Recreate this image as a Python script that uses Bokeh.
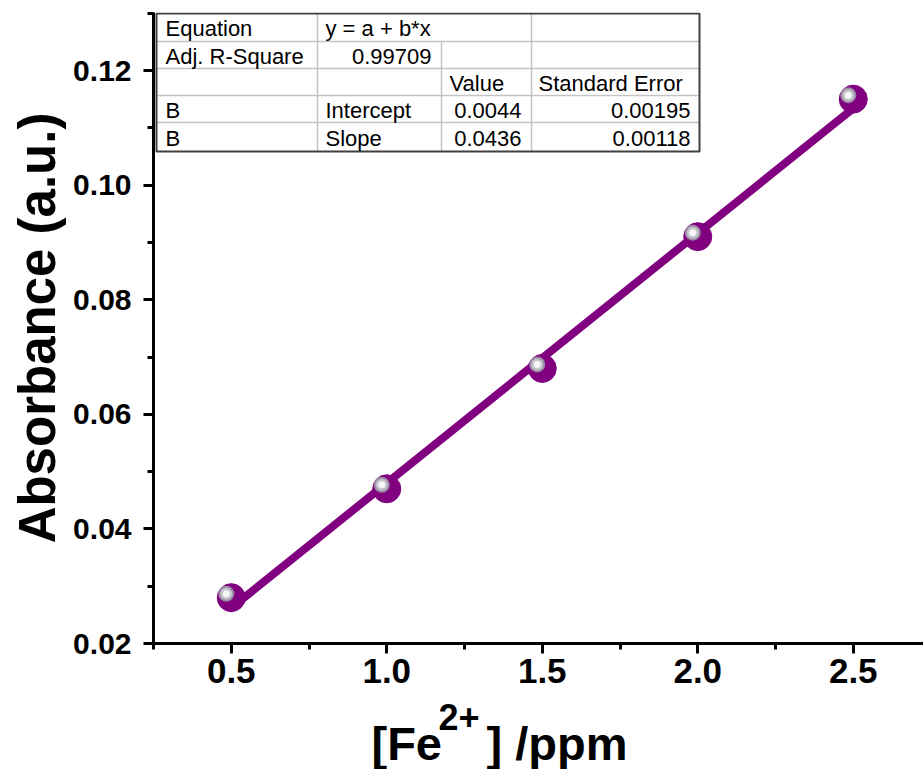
from bokeh.plotting import figure
from bokeh.layouts import column
from bokeh.models import SingleIntervalTicker, PrintfTickFormatter, Range1d
from bokeh.core.properties import value
from bokeh.embed import file_html
from bokeh.resources import INLINE

# Calibration data: absorbance vs Fe2+ concentration
conc_ppm = [0.5, 1.0, 1.5, 2.0, 2.5]
absorbance = [0.028, 0.047, 0.068, 0.091, 0.115]

# Linear fit results (y = a + b*x)
fit_intercept = 0.0044
fit_slope = 0.0436

# Fit summary table
table_rows = [
    ["Equation", "y = a + b*x", "", ""],
    ["Adj. R-Square", "0.99709", "", ""],
    ["", "", "Value", "Standard Error"],
    ["B", "Intercept", "0.0044", "0.00195"],
    ["B", "Slope", "0.0436", "0.00118"],
]

PURPLE = "#800080"
FONT = "Liberation Sans"

W, H = 923, 769
PH = 698                                    # height of the main plot
TITLE_H = H - PH                            # strip below the plot holding the x title
FL, FR, FT, FB = 153, 923, 12, 643          # frame edges in canvas pixels
FW, FH = FR - FL, FB - FT
x0 = 0.25
x1 = x0 + FW / 311.0
y0 = 0.02
y1 = y0 + FH / 5730.0


def px_x(px):
    return x0 + (px - FL) * (x1 - x0) / FW


def px_y(py):
    return y0 + (FB - py) * (y1 - y0) / FH


p = figure(width=W, height=PH, output_backend="svg", toolbar_location=None,
           x_range=Range1d(x0, x1), y_range=Range1d(y0, y1),
           min_border_left=FL, min_border_right=W - FR,
           min_border_top=FT, min_border_bottom=PH - FB)
p.background_fill_color = "white"
p.border_fill_color = "white"
p.outline_line_color = None
p.xgrid.visible = False
p.ygrid.visible = False

# axes
for ax in (p.xaxis[0], p.yaxis[0]):
    ax.axis_line_width = 3
    ax.axis_line_color = "black"
    ax.major_tick_line_width = 3
    ax.minor_tick_line_width = 3
    ax.major_tick_out = 10
    ax.major_tick_in = 0
    ax.minor_tick_out = 6
    ax.minor_tick_in = 0
    ax.major_label_text_font = FONT
    ax.major_label_text_font_style = "bold"
    ax.major_label_text_color = "black"

p.xaxis.ticker = SingleIntervalTicker(interval=0.5, num_minor_ticks=2)
p.yaxis.ticker = SingleIntervalTicker(interval=0.02, num_minor_ticks=2)
p.xaxis.formatter = PrintfTickFormatter(format="%.1f")
p.yaxis.formatter = PrintfTickFormatter(format="%.2f")
p.xaxis.major_label_text_font_size = "35px"
p.yaxis.major_label_text_font_size = "30px"
p.xaxis.major_label_standoff = 5
p.yaxis.major_label_standoff = 12

p.yaxis.axis_label = "Absorbance (a.u.)"
p.yaxis.axis_label_text_font = FONT
p.yaxis.axis_label_text_font_style = "bold"
p.yaxis.axis_label_text_font_size = "51px"
p.yaxis.axis_label_text_color = "black"
p.yaxis.axis_label_standoff = 4

# fitted line
fx = [min(conc_ppm), max(conc_ppm)]
fy = [fit_intercept + fit_slope * v for v in fx]
p.line(fx, fy, line_color=PURPLE, line_width=8, line_cap="round")

# spherical markers
p.scatter(conc_ppm, absorbance, size=28, fill_color=PURPLE, line_color=PURPLE)
dx = -5 * (x1 - x0) / FW
dy = 4 * (y1 - y0) / FH
hx = [v + dx for v in conc_ppm]
hy = [v + dy for v in absorbance]
p.scatter(hx, hy, size=16, fill_color="#9c8aa4", line_color=None)
p.scatter(hx, hy, size=12, fill_color="#c4c4cc", line_color=None)
p.scatter(hx, hy, size=7, fill_color="#f6f6f6", line_color=None)

# fit table
col_px = [156, 317, 441, 531, 699]
row_px = [13, 41, 68, 95, 122, 151]
p.quad(left=[px_x(col_px[0])], right=[px_x(col_px[-1])],
       top=[px_y(row_px[0])], bottom=[px_y(row_px[-1])],
       fill_color="white", line_color=None)
grid_x0, grid_x1, grid_y0, grid_y1 = [], [], [], []
for r in row_px[1:-1]:
    grid_x0.append(px_x(col_px[0])); grid_x1.append(px_x(col_px[-1]))
    grid_y0.append(px_y(r)); grid_y1.append(px_y(r))
for c in (col_px[1], col_px[3]):
    grid_x0.append(px_x(c)); grid_x1.append(px_x(c))
    grid_y0.append(px_y(row_px[0])); grid_y1.append(px_y(row_px[-1]))
grid_x0.append(px_x(col_px[2])); grid_x1.append(px_x(col_px[2]))
grid_y0.append(px_y(row_px[1])); grid_y1.append(px_y(row_px[-1]))
p.segment(grid_x0, grid_y0, grid_x1, grid_y1, line_color="#c4c4c4", line_width=1.5)
p.quad(left=[px_x(col_px[0])], right=[px_x(col_px[-1])],
       top=[px_y(row_px[0])], bottom=[px_y(row_px[-1])],
       fill_color=None, line_color="#404040", line_width=2)

# cell texts: (row, col) -> anchor px, align
anchors = {
    (0, 0): (165, "left"), (0, 1): (325, "left"),
    (1, 0): (165, "left"), (1, 1): (431, "right"),
    (2, 2): (449, "left"), (2, 3): (538, "left"),
    (3, 0): (165, "left"), (3, 1): (325, "left"), (3, 2): (521, "right"), (3, 3): (690, "right"),
    (4, 0): (165, "left"), (4, 1): (325, "left"), (4, 2): (521, "right"), (4, 3): (690, "right"),
}
for align in ("left", "right"):
    tx, ty, tt = [], [], []
    for (r, c), (ax_px, al) in anchors.items():
        if al != align or not table_rows[r][c]:
            continue
        tx.append(px_x(ax_px))
        ty.append(px_y((row_px[r] + row_px[r + 1]) / 2 + 1))
        tt.append(table_rows[r][c])
    p.text(tx, ty, text=tt, text_align=align, text_baseline="middle",
           text_font=value(FONT), text_font_size="22px", text_color="black")

# x-axis title strip below the plot; its frame lines up with the plot frame,
# so its x range is given in canvas pixels across that frame
q = figure(width=W, height=TITLE_H, output_backend="svg", toolbar_location=None,
           x_range=Range1d(FL, FR), y_range=Range1d(0, TITLE_H),
           x_axis_location=None, y_axis_location=None,
           min_border=0, min_border_left=FL, min_border_right=W - FR,
           min_border_top=0, min_border_bottom=0)
q.grid.visible = False
q.outline_line_color = None
q.background_fill_color = "white"
q.border_fill_color = "white"
title_parts = ["[Fe", "2+", "] /ppm"]
part_x = [371, 438, 486]
part_mid = [743, 716, 743]
part_size = ["47px", "36px", "47px"]
for t, xx, mm, fs in zip(title_parts, part_x, part_mid, part_size):
    q.text([xx], [H - mm], text=[t], text_align="left", text_baseline="middle",
           text_font=value(FONT), text_font_style="bold", text_font_size=fs,
           text_color="black")

layout = column(p, q, spacing=0)
open("out.html", "w").write(file_html(layout, INLINE))
